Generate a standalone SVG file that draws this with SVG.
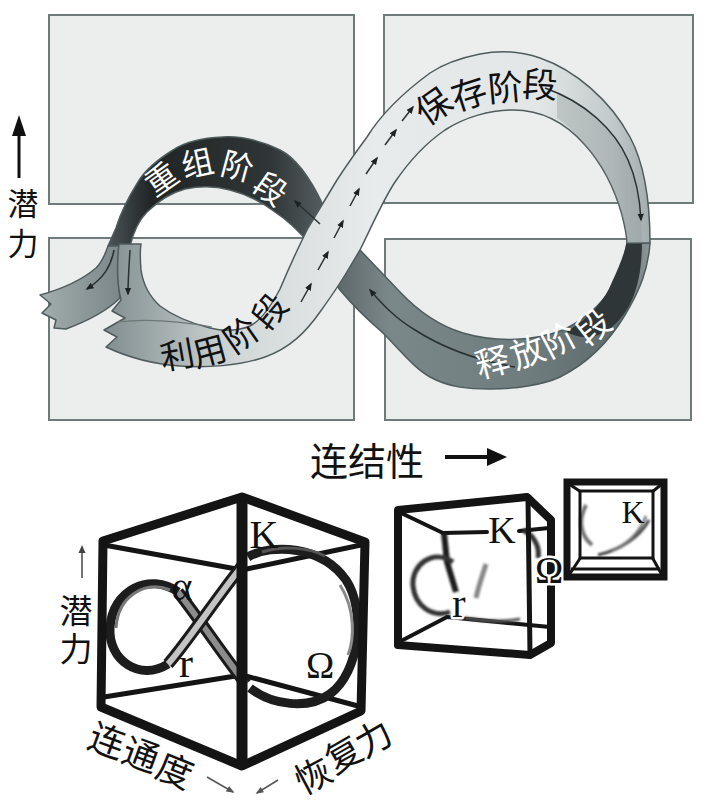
<svg xmlns="http://www.w3.org/2000/svg" width="709" height="811" viewBox="0 0 709 811">
<defs>
<style>
.panel{fill:#eceeee;stroke:#6f7b7b;stroke-width:2}
.edge{stroke:#4f5b5c;stroke-width:1.5;stroke-linejoin:round}
.fold{fill:none;stroke:#2a3132;stroke-width:1.5}
.cjk{font-family:"Noto Sans CJK SC","Noto Sans CJK JP",sans-serif;text-anchor:middle;dominant-baseline:central}
.vert{writing-mode:vertical-rl}
.w{fill:#ffffff}
.b{fill:#111111}
.ser{font-family:"Liberation Serif","Times New Roman",serif;fill:#111;text-anchor:middle}
.halo{stroke:#ffffff;stroke-width:5;paint-order:stroke;stroke-linejoin:round}
.thick{fill:none;stroke:#141414;stroke-linecap:round;stroke-linejoin:round}
</style>
<linearGradient id="gA" gradientUnits="userSpaceOnUse" x1="100" y1="0" x2="650" y2="0">
<stop offset="0" stop-color="#7f8b8c"/>
<stop offset="0.08" stop-color="#98a3a4"/>
<stop offset="0.25" stop-color="#d2d8d8"/>
<stop offset="0.5" stop-color="#e8ebeb"/>
<stop offset="0.8" stop-color="#e2e6e6"/>
<stop offset="0.93" stop-color="#c3cacb"/>
<stop offset="1" stop-color="#a3adae"/>
</linearGradient>
<linearGradient id="gC" gradientUnits="userSpaceOnUse" x1="108" y1="0" x2="650" y2="0">
<stop offset="0" stop-color="#4b5556"/>
<stop offset="0.08" stop-color="#202425"/>
<stop offset="0.3" stop-color="#303637"/>
<stop offset="0.42" stop-color="#5c6769"/>
<stop offset="0.52" stop-color="#7b888a"/>
<stop offset="0.78" stop-color="#6f7c7e"/>
<stop offset="0.94" stop-color="#5e6a6c"/>
<stop offset="1" stop-color="#8d9899"/>
</linearGradient>
<linearGradient id="gD" gradientUnits="userSpaceOnUse" x1="40" y1="0" x2="120" y2="0">
<stop offset="0" stop-color="#a3adae"/>
<stop offset="1" stop-color="#7b8788"/>
</linearGradient>
<marker id="ah" viewBox="0 0 10 10" refX="8" refY="5" markerUnits="userSpaceOnUse" markerWidth="8" markerHeight="8" orient="auto">
<path d="M0,1 L10,5 L0,9 z" fill="#1d2222"/>
</marker>
<marker id="ahg" viewBox="0 0 10 10" refX="8" refY="5" markerUnits="userSpaceOnUse" markerWidth="8" markerHeight="8" orient="auto">
<path d="M0,1 L10,5 L0,9 z" fill="#555"/>
</marker>
<filter id="blur" x="-20%" y="-20%" width="140%" height="140%"><feGaussianBlur stdDeviation="1.2"/></filter>
</defs>

<rect width="709" height="811" fill="#ffffff"/>

<g id="panels">
<rect class="panel" x="49" y="15" width="305" height="189"/>
<rect class="panel" x="384" y="15" width="309" height="188"/>
<rect class="panel" x="49" y="238" width="305" height="182"/>
<rect class="panel" x="385" y="239" width="306" height="181"/>
</g>

<g id="ribbon">
<path class="edge" fill="url(#gC)" d="M627,243 C620,285 600,312 563,330 C530,343 490,341 463,333 C440,326 418,311 400,292 L360,250 L323,205 C315,188 300,160 280,150 C262,141 243,136 223,137 C200,138 185,142 173,150 C157,160 145,170 138,182 C128,198 120,215 116,228 L108,246 L130,246 C134,230 139,220 147,212 C160,200 170,193 185,189 C200,186 215,186 230,190 C250,195 263,203 275,212 C290,222 300,232 310,245 L340,290 C355,308 368,320 383,333 C400,350 414,368 430,377 C450,388 470,389 490,389 C515,389 543,385 560,377 C590,362 610,340 625,315 C640,290 648,270 650,243 Z"/>
<path fill="#2f3637" d="M627,240 L642,240 C642,280 634,308 612,327 C598,338 585,341 566,332 C590,318 605,300 612,282 C620,265 625,252 627,240 Z"/>
<path class="edge" fill="url(#gD)" d="M108,246 L120,246 C118,264 118,283 120,298 C110,308 90,320 66,329 L54,328 L56,320 L42,313 L51,304 L40,295 C62,289 83,279 96,268 C102,262 105,255 108,246 Z"/>
<path class="edge" fill="url(#gA)" d="M119,244 C117,262 117,284 121,300 L112,311 L125,318 L104,330 L117,337 L106,347 C125,356 152,364 180,366 C205,368 240,366 265,357 C290,348 306,332 320,312 C330,298 340,284 348,270 L360,250 C370,230 383,200 395,182 C410,160 426,143 445,130 C465,117 490,110 513,110 C540,110 565,122 585,145 C603,165 615,190 622,215 C625,227 627,235 627,243 L650,243 C650,200 645,165 630,137 C610,100 575,70 540,58 C520,51 500,50 480,54 C455,59 442,65 430,73 C400,95 380,116 367,137 C356,152 346,166 337,180 L308,228 C296,252 288,270 280,289 C270,308 260,321 250,326 C235,332 222,331 210,328 C190,323 172,315 160,306 C149,296 143,284 141,270 C140,258 140,250 141,244 Z"/>
<path fill="#8a9596" opacity="0.35" d="M557,92 C590,105 615,130 628,160 C637,180 641,205 642,243 L627,243 C627,235 625,227 622,215 C615,190 603,165 585,145 C576,133 567,125 557,118 Z"/>
<path fill="none" stroke="#6c7778" stroke-width="1.2" d="M117,322 C150,318 185,322 212,327"/>
<path class="fold" d="M545,88 C585,102 615,130 628,160 C637,180 640,200 641,220" marker-end="url(#ah)"/>
<path class="fold" d="M515,367 C475,360 440,346 415,330 C395,318 382,304 370,290" marker-end="url(#ah)"/>
<path class="fold" d="M320,224 L295,201" marker-end="url(#ah)"/>
<path class="fold" d="M114,250 C111,266 104,278 87,289" marker-end="url(#ah)"/>
<path class="fold" d="M130,250 C129,266 128,280 128,294" marker-end="url(#ah)"/>
<g class="fold">
<path d="M301,302 L311,284" marker-end="url(#ah)"/>
<path d="M318,270 L328,252" marker-end="url(#ah)"/>
<path d="M334,238 L343,221" marker-end="url(#ah)"/>
<path d="M350,206 L359,189" marker-end="url(#ah)"/>
<path d="M366,174 L377,158" marker-end="url(#ah)"/>
<path d="M385,145 L396,130" marker-end="url(#ah)"/>
<path d="M402,121 L413,107" marker-end="url(#ah)"/>
</g>
</g>

<g id="ribbon-labels">
<g class="cjk w" font-size="32">
<text transform="translate(160,177) rotate(-35)">重</text>
<text transform="translate(197,161) rotate(-12)">组</text>
<text transform="translate(238,164) rotate(15)">阶</text>
<text transform="translate(272,187) rotate(35)">段</text>
</g>
<g class="cjk b" font-size="35">
<text transform="translate(432,104) rotate(-35)">保</text>
<text transform="translate(468,91) rotate(-18)">存</text>
<text transform="translate(505,85) rotate(-5)">阶</text>
<text transform="translate(540,82) rotate(3)">段</text>
</g>
<g class="cjk w" font-size="34">
<text transform="translate(492,360) rotate(-15)">释</text>
<text transform="translate(527,350) rotate(-20)">放</text>
<text transform="translate(558,338) rotate(-28)">阶</text>
<text transform="translate(592,325) rotate(-38)">段</text>
</g>
<g class="cjk b" font-size="34">
<text transform="translate(177,353) rotate(-10)">利</text>
<text transform="translate(209,349) rotate(-15)">用</text>
<text transform="translate(240,333) rotate(-35)">阶</text>
<text transform="translate(268,310) rotate(-50)">段</text>
</g>
</g>

<g id="axis-potential">
<line x1="19" y1="133" x2="19" y2="178" stroke="#111" stroke-width="3"/>
<polygon points="19,115 12,136 26,136" fill="#111"/>
<text class="cjk b vert" x="23" y="228" font-size="31" letter-spacing="9">潜力</text>
</g>

<g id="axis-connectedness">
<text class="cjk b" x="310" y="458" font-size="38" style="text-anchor:start">连结性</text>
<line x1="445" y1="457" x2="490" y2="457" stroke="#111" stroke-width="4"/>
<polygon points="507,457 487,448 487,466" fill="#111"/>
</g>

<g id="cube-large">
<g class="thick" stroke-width="5">
<line x1="104" y1="545" x2="242" y2="570"/>
<line x1="361" y1="545" x2="242" y2="570"/>
<line x1="104" y1="697" x2="242" y2="675"/>
<line x1="358" y1="706" x2="242" y2="675"/>
</g>
<g id="ribbon-large">
<path d="M246,684 C228,662 200,620 178,592" fill="none" stroke="#1b1b1b" stroke-width="12"/>
<path d="M246,684 C228,662 200,620 178,592" fill="none" stroke="#8c8c8c" stroke-width="6"/>
<path d="M178,592 C150,572 112,590 110,628 C108,660 140,682 168,664" fill="none" stroke="#1d1d1d" stroke-width="9"/>
<path d="M170,590 C145,580 118,596 116,628" fill="none" stroke="#777" stroke-width="3"/>
<path d="M168,664 C185,645 215,600 242,566" fill="none" stroke="#1b1b1b" stroke-width="12"/>
<path d="M168,664 C185,645 215,600 242,566" fill="none" stroke="#c4c4c4" stroke-width="6"/>
<path d="M248,557 C272,543 322,546 346,580 C366,610 360,672 330,694 C308,710 272,705 250,688" fill="none" stroke="#1d1d1d" stroke-width="9"/>
<path d="M340,585 C356,610 354,640 348,655" fill="none" stroke="#8a8a8a" stroke-width="3"/>
<path d="M262,552 C285,545 310,548 325,556" fill="none" stroke="#555" stroke-width="3"/>
</g>
<polygon class="thick" stroke-width="9" stroke-linejoin="miter" points="242,497 103,541 101,707 242,766 361,711 365,542"/>
<line x1="242" y1="496" x2="242" y2="767" stroke="#141414" stroke-width="11"/>
<text class="ser" x="264" y="548" font-size="40">K</text>
<text class="ser" x="182" y="600" font-size="40">α</text>
<text class="ser" x="186" y="677" font-size="42">r</text>
<text class="ser halo" x="320" y="678" font-size="38">Ω</text>
</g>

<g id="cube-large-labels">
<line x1="82" y1="578" x2="82" y2="551" stroke="#444" stroke-width="1.5"/>
<polygon points="82,545 78.5,553 85.5,553" fill="#444"/>
<text class="cjk b vert" x="76" y="632" font-size="33" letter-spacing="5">潜力</text>
<g class="cjk b" font-size="36">
<text transform="translate(108,738) rotate(20)">连</text>
<text transform="translate(142,752) rotate(20)">通</text>
<text transform="translate(176,768) rotate(22)">度</text>
<text transform="translate(312,773) rotate(-28)">恢</text>
<text transform="translate(342,752) rotate(-30)">复</text>
<text transform="translate(372,736) rotate(-30)">力</text>
</g>
<path d="M207,777 L233,792" stroke="#555" stroke-width="1.5" marker-end="url(#ahg)"/>
<path d="M278,780 L257,793" stroke="#555" stroke-width="1.5" marker-end="url(#ahg)"/>
</g>

<g id="cube-medium">
<g class="thick" stroke-width="4">
<line x1="399" y1="512" x2="443" y2="533"/>
<line x1="443" y1="533" x2="487" y2="532"/>
<line x1="519" y1="531" x2="549" y2="528"/>
<line x1="401" y1="641" x2="447" y2="617"/>
<line x1="447" y1="617" x2="550" y2="627"/>
</g>
<g filter="url(#blur)">
<path d="M444,533 L447,562 L456,592" fill="none" stroke="#1a1a1a" stroke-width="6"/>
<path d="M453,562 C433,548 411,565 413,586 C415,606 432,618 450,612" fill="none" stroke="#333" stroke-width="5"/>
<path d="M486,564 C482,577 478,588 476,598" fill="none" stroke="#555" stroke-width="5" opacity="0.7"/>
<path d="M523,530 C535,536 540,548 538,558" fill="none" stroke="#333" stroke-width="5"/>
<path d="M465,618 C490,622 505,622 520,619" fill="none" stroke="#555" stroke-width="3"/>
</g>
<g class="thick" stroke-linejoin="miter">
<polyline points="398,645 398,510 527,497 551,520 551,643 530,655 398,645" stroke-width="8"/>
<line x1="528" y1="498" x2="530" y2="654" stroke-width="5"/>
</g>
<text class="ser halo" x="502" y="543" font-size="38">K</text>
<text class="ser halo" x="459" y="617" font-size="40">r</text>
<text class="ser halo" x="549" y="583" font-size="38">Ω</text>
</g>

<g id="cube-small">
<g filter="url(#blur)">
<path d="M586,505 C578,520 580,535 592,545" fill="none" stroke="#444" stroke-width="4" opacity="0.75"/>
<path d="M598,555 C620,550 640,537 649,520" fill="none" stroke="#444" stroke-width="3"/>
<path d="M612,550 C627,545 640,532 646,516" fill="none" stroke="#777" stroke-width="2.5"/>
</g>
<rect x="567" y="482" width="97" height="95" fill="none" stroke="#141414" stroke-width="7"/>
<rect x="580" y="491" width="73" height="67" fill="none" stroke="#141414" stroke-width="3"/>
<line x1="571" y1="569" x2="660" y2="569" stroke="#141414" stroke-width="3"/>
<g stroke="#141414" stroke-width="3">
<line x1="569" y1="484" x2="581" y2="492"/>
<line x1="662" y1="484" x2="652" y2="492"/>
<line x1="569" y1="575" x2="581" y2="557"/>
<line x1="662" y1="575" x2="652" y2="557"/>
</g>
<text class="ser" x="633" y="523" font-size="32">K</text>
</g>
</svg>
